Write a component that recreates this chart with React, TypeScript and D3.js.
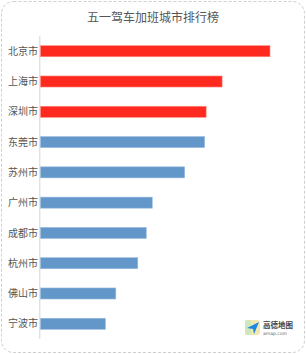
import React from "react";
import * as d3 from "d3";

const cities = ["北京市", "上海市", "深圳市", "东莞市", "苏州市", "广州市", "成都市", "杭州市", "佛山市", "宁波市"];
const values = [230, 182, 166, 164.5, 144.5, 112, 106, 97.5, 75.5, 65];
const highlighted = ["北京市", "上海市", "深圳市"];
const title = "五一驾车加班城市排行榜";

const W = 306;
const H = 354;

export default function App() {
  const y = d3.scaleBand<string>().domain(cities).range([36, 339]).paddingInner(0.635).paddingOuter(0.32);
  const x = d3.scaleLinear().domain([0, 230]).range([40.5, 270]);
  const font = "'Noto Sans CJK SC', 'Noto Sans', sans-serif";
  return (
    <svg width={W} height={H} style={{ position: "absolute", left: 0, top: 0, display: "block" }}>
      <rect x={1.5} y={1.5} width={W - 3} height={H - 3} rx={12} ry={12} fill="#fff" stroke="#cfcfcf" strokeWidth={1} strokeDasharray="3,2" />
      <text x={153} y={22} textAnchor="middle" fontFamily={font} fontSize={12} fill="#555">{title}</text>
      <line x1={39.7} x2={39.7} y1={36} y2={339} stroke="#e2e2e2" strokeWidth={1.5} />
      {cities.map((c, i) => (
        <g key={c}>
          <rect
            x={x(0)}
            y={y(c)!}
            width={x(values[i]) - x(0)}
            height={y.bandwidth()}
            fill={highlighted.includes(c) ? "#ff2a1f" : "#6497c9"}
            stroke={highlighted.includes(c) ? "#ff8a80" : "#9cbde0"}
            strokeWidth={0.6}
          />
          <text x={8} y={y(c)! + y.bandwidth() / 2} dy="0.36em" fontFamily={font} fontSize={10} fill="#555">{c}</text>
        </g>
      ))}
      <g transform="translate(245,320)">
        <rect x={0} y={0} width={15} height={15} rx={3} fill="#f3e7b0" />
        <rect x={0} y={0} width={6} height={15} rx={2} fill="#cfe8b9" />
        <path d="M2,8 L14,2 L9,14 L8,9 Z" fill="#1e88e5" />
        <text x={18} y={8} fontFamily={font} fontSize={7.5} fontWeight="bold" fill="#444">高德地图</text>
        <text x={18} y={14.5} fontFamily="'DejaVu Sans', sans-serif" fontSize={4.5} fill="#666">amap.com</text>
      </g>
    </svg>
  );
}
